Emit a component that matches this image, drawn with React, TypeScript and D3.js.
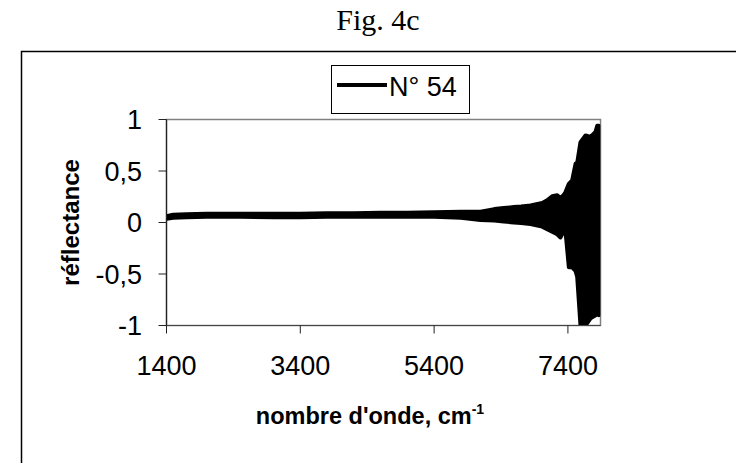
import React from "react";
import * as d3 from "d3";

// Data (envelope of the dense noisy spectrum)
const wavenumber = [1400, 1500, 1700, 2000, 2500, 3000, 3400, 3800, 4200, 4600, 5000, 5400, 5800, 6094, 6300, 6442, 6592, 6700, 6841, 7016, 7090, 7165, 7240, 7289, 7340, 7364, 7414, 7464, 7514, 7539, 7588, 7663, 7738, 7813, 7838, 7860];
const upperEnv = [0.06, 0.075, 0.08, 0.085, 0.085, 0.085, 0.085, 0.09, 0.09, 0.095, 0.095, 0.1, 0.105, 0.105, 0.13, 0.14, 0.15, 0.155, 0.165, 0.19, 0.215, 0.255, 0.265, 0.235, 0.27, 0.295, 0.375, 0.41, 0.57, 0.58, 0.78, 0.845, 0.83, 0.88, 0.94, 0.94];
const lowerEnv = [0.035, 0.045, 0.05, 0.055, 0.055, 0.05, 0.05, 0.055, 0.055, 0.055, 0.055, 0.055, 0.045, 0.025, 0.02, 0.01, 0.0, -0.005, -0.015, -0.04, -0.065, -0.09, -0.115, -0.145, -0.08, -0.085, -0.435, -0.435, -0.47, -0.53, -1.0, -1.0, -0.93, -0.9, -0.89, -0.9];

const xTicks = [1400, 3400, 5400, 7400];
const yTicks = [-1, -0.5, 0, 0.5, 1];
const yTickLabels = ["-1", "-0,5", "0", "0,5", "1"];
const seriesName = "N° 54";
const xDomain = [1400, 7887];
const yDomain = [-1, 1];

const W = 736;
const H = 463;
const plot = { left: 166.5, right: 600.5, top: 119.5, bottom: 325.5 };
const sans = "'Liberation Sans', Arial, sans-serif";
const serif = "'Liberation Serif', 'Times New Roman', serif";

export default function App() {
  const x = d3.scaleLinear().domain(xDomain).range([plot.left, plot.right]);
  const y = d3.scaleLinear().domain(yDomain).range([plot.bottom, plot.top]);
  const pts = wavenumber.map((w, i) => ({ w, hi: upperEnv[i], lo: lowerEnv[i] }));
  const area = d3
    .area<{ w: number; hi: number; lo: number }>()
    .x((d) => x(d.w))
    .y0((d) => y(d.lo))
    .y1((d) => y(d.hi));

  return (
    <div style={{ position: "absolute", left: 0, top: 0 }}>
      <svg width={W} height={H} style={{ display: "block", background: "#fff" }}>
        <defs>
          <clipPath id="plotClip">
            <rect x={plot.left} y={plot.top} width={plot.right - plot.left} height={plot.bottom - plot.top} />
          </clipPath>
        </defs>
        <text x={378} y={30} textAnchor="middle" fontFamily={serif} fontSize={30}>
          Fig. 4c
        </text>
        <rect x={21.5} y={51.5} width={760} height={440} fill="#fff" stroke="#000" strokeWidth={1.5} />

        {/* plot frame */}
        <rect x={plot.left} y={plot.top} width={plot.right - plot.left} height={plot.bottom - plot.top} fill="none" stroke="#808080" strokeWidth={1.5} />

        {/* data */}
        <g clipPath="url(#plotClip)">
          <path d={area(pts) || ""} fill="#000" stroke="#000" strokeWidth={4} strokeLinejoin="round" />
        </g>

        {/* axes */}
        <line x1={plot.left} x2={plot.left} y1={plot.top} y2={plot.bottom} stroke="#222" strokeWidth={1.2} />
        <line x1={plot.left} x2={plot.right} y1={plot.bottom} y2={plot.bottom} stroke="#444" strokeWidth={1.2} />
        {yTicks.map((t, i) => (
          <g key={"y" + t}>
            <line x1={plot.left - 8} x2={plot.left} y1={y(t)} y2={y(t)} stroke="#222" strokeWidth={1} />
            <text x={142} y={y(t)} dy="0.36em" textAnchor="end" fontFamily={sans} fontSize={27}>
              {yTickLabels[i]}
            </text>
          </g>
        ))}
        {xTicks.map((t) => (
          <g key={"x" + t}>
            <line x1={x(t)} x2={x(t)} y1={plot.bottom} y2={plot.bottom + 8} stroke="#222" strokeWidth={1} />
            <text x={x(t)} y={375} textAnchor="middle" fontFamily={sans} fontSize={27}>
              {t}
            </text>
          </g>
        ))}

        {/* axis titles */}
        <text x={370} y={424} textAnchor="middle" fontFamily={sans} fontSize={23.5} fontWeight="bold">
          nombre d'onde, cm
          <tspan fontSize={14} dy={-10}>-1</tspan>
        </text>
        <text
          transform={`translate(79, ${y(0)}) rotate(-90)`}
          textAnchor="middle"
          fontFamily={sans}
          fontSize={24}
          fontWeight="bold"
        >
          réflectance
        </text>

        {/* legend */}
        <rect x={331.5} y={65.5} width={138} height={48} fill="#fff" stroke="#000" strokeWidth={1} />
        <line x1={337} x2={387} y1={85} y2={85} stroke="#000" strokeWidth={4} />
        <text x={389} y={86} dy="0.36em" fontFamily={sans} fontSize={27}>
          {seriesName}
        </text>
      </svg>
    </div>
  );
}
